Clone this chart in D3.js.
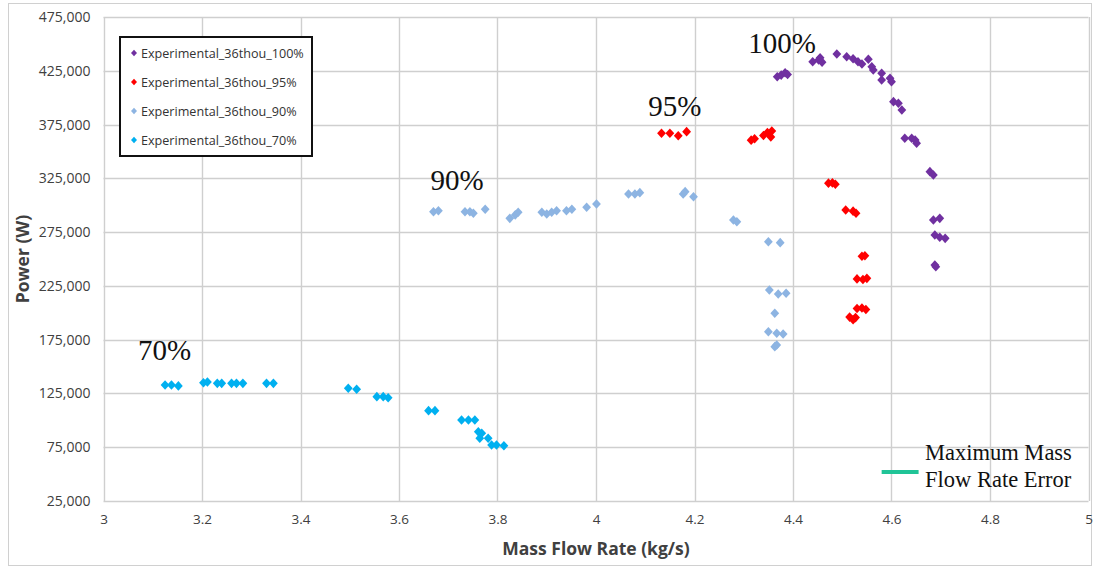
<!DOCTYPE html>
<html>
<head>
<meta charset="utf-8">
<script src="https://cdn.jsdelivr.net/npm/d3@7"></script>
<style>
  html, body { margin: 0; padding: 0; background: #fff; }
  svg { display: block; }
</style>
</head>
<body>
<svg id="chart" width="1094" height="568"></svg>
<script>
// ---- Data ----
const seriesNames = ["Experimental_36thou_100%", "Experimental_36thou_95%", "Experimental_36thou_90%", "Experimental_36thou_70%"];
const seriesColors = ["#7030a0", "#ff0000", "#8db4e2", "#00b0f0"];

const flow100 = [4.368,4.376,4.384,4.389, 4.440,4.452,4.459,4.455, 4.489,4.509,4.522,4.532,4.540,4.553,4.560,4.563,4.580,4.580,4.597,4.600,4.604,4.614,4.621,4.627,4.641,4.648,4.651,4.678,4.685,4.685,4.698,4.688,4.698,4.709,4.688,4.690];
const power100 = [419500,421000,423200,421500, 433400,435000,433000,437000, 440600,438100,436200,433400,431300,435700,428800,425700,422700,416400,418000,414900,396300,394800,388500,362200,362200,360600,357600,331200,328100,286300,287800,272300,270200,269200,244400,242800];

const flow95 = [4.133,4.150,4.167,4.184, 4.315,4.322,4.340,4.348,4.355,4.357, 4.472,4.480,4.486, 4.507,4.522,4.528, 4.540,4.546, 4.530,4.542,4.550, 4.530,4.540,4.548, 4.515,4.522,4.527];
const power95 = [366900,366900,364600,368400, 360500,361800,364800,367500,363500,369000, 320500,320800,319500, 295500,294500,292500, 252500,253000, 231500,231000,232000, 204000,204500,203000, 196000,193500,195500];

const flow90 = [3.670,3.680, 3.734,3.744,3.751,3.775, 3.825,3.836,3.842, 3.890,3.900,3.910,3.920,3.940,3.951,3.981,4.001, 4.066,4.079,4.089, 4.177,4.181,4.198, 4.279,4.286, 4.350,4.374, 4.352,4.370,4.386, 4.363, 4.350,4.367,4.380, 4.363,4.367];
const power90 = [294000,294900, 294000,294000,292500,296200, 287800,291000,293400, 293400,291800,293400,294900,294900,296200,298100,301100, 310500,310500,311700, 310500,312600,307900, 286300,284700, 266100,265200, 221200,217500,218100, 199500, 182400,181000,180300, 168500,170000];

const flow70 = [3.125,3.138,3.152, 3.203,3.211, 3.231,3.240, 3.260,3.270,3.283, 3.331,3.345, 3.497,3.514, 3.555,3.568,3.578, 3.660,3.673, 3.727,3.741,3.754, 3.761,3.764,3.768,3.781, 3.788,3.798,3.813];
const power70 = [132900,132900,132000, 135000,135600, 134400,134400, 134400,134400,134400, 134400,134400, 129800,128900, 122000,122000,121000, 109000,109000, 100300,100300,100300, 89400,83300,88000,83300, 77100,77100,76400];

const xTicks = [3, 3.2, 3.4, 3.6, 3.8, 4, 4.2, 4.4, 4.6, 4.8, 5];
const yTicks = [25000, 75000, 125000, 175000, 225000, 275000, 325000, 375000, 425000, 475000];

const annotations = [
  {text: "70%", x: 3.070, y: 156100},
  {text: "90%", x: 3.664, y: 314200},
  {text: "95%", x: 4.106, y: 383200},
  {text: "100%", x: 4.309, y: 441500}
];
const errorLabel = ["Maximum Mass", "Flow Rate Error"];

// ---- Layout ----
const svg = d3.select("#chart");
const plot = {left: 103.5, right: 1088.5, top: 17, bottom: 501};

const x = d3.scaleLinear().domain([3, 5]).range([plot.left, plot.right]);
const y = d3.scaleLinear().domain([25000, 475000]).range([plot.bottom, plot.top]);

// outer chart border
svg.append("rect").attr("x", 8.5).attr("y", 3.5).attr("width", 1083).attr("height", 562)
  .attr("fill", "none").attr("stroke", "#d0d0d0").attr("stroke-width", 1);

// gridlines
const grid = svg.append("g");
grid.selectAll("line.h").data(yTicks).enter().append("line")
  .attr("x1", plot.left).attr("x2", plot.right)
  .attr("y1", d => Math.round(y(d)) + 0.5).attr("y2", d => Math.round(y(d)) + 0.5)
  .attr("stroke", "#cfcfcf").attr("stroke-width", 1.4);
grid.selectAll("line.v").data(xTicks).enter().append("line")
  .attr("y1", plot.top).attr("y2", plot.bottom)
  .attr("x1", d => Math.round(x(d)) + 0.5).attr("x2", d => Math.round(x(d)) + 0.5)
  .attr("stroke", "#cfcfcf").attr("stroke-width", 1.4);

// axes (labels only)
const fmt = d3.format(",");
const yAxis = d3.axisLeft(y).tickValues(yTicks).tickFormat(fmt).tickSize(0).tickPadding(13);
const gy = svg.append("g").attr("transform", `translate(${plot.left},0)`).call(yAxis);
gy.select(".domain").remove();
gy.selectAll("text").attr("font-family", "'Open Sans', 'Noto Sans', sans-serif")
  .attr("font-size", 14).attr("fill", "#404040");

const xAxis = d3.axisBottom(x).tickValues(xTicks).tickFormat(d3.format("")).tickSize(0).tickPadding(13);
const gx = svg.append("g").attr("transform", `translate(0,${plot.bottom})`).call(xAxis);
gx.select(".domain").remove();
gx.selectAll("text").attr("font-family", "'Open Sans', 'Noto Sans', sans-serif")
  .attr("font-size", 13.5).attr("fill", "#404040");

// axis titles
svg.append("text").attr("x", 596).attr("y", 555).attr("text-anchor", "middle")
  .attr("font-family", "'Open Sans', 'Noto Sans', sans-serif").attr("font-size", 17.5)
  .attr("font-weight", "bold").attr("fill", "#404040").text("Mass Flow Rate (kg/s)");
svg.append("text").attr("transform", "translate(29,259) rotate(-90)").attr("text-anchor", "middle")
  .attr("font-family", "'Open Sans', 'Noto Sans', sans-serif").attr("font-size", 17.5)
  .attr("font-weight", "bold").attr("fill", "#404040").text("Power (W)");

// series
const diamond = "M0,-4.8L4.4,0L0,4.8L-4.4,0Z";
const allSeries = [
  {flow: flow100, power: power100},
  {flow: flow95, power: power95},
  {flow: flow90, power: power90},
  {flow: flow70, power: power70}
];
allSeries.forEach((s, i) => {
  const pts = s.flow.map((f, j) => [f, s.power[j]]);
  svg.append("g").selectAll("path").data(pts).enter().append("path")
    .attr("d", diamond)
    .attr("transform", d => `translate(${x(d[0])},${y(d[1])})`)
    .attr("fill", seriesColors[i]);
});

// annotations
svg.append("g").selectAll("text").data(annotations).enter().append("text")
  .attr("x", d => x(d.x)).attr("y", d => y(d.y))
  .attr("font-family", "'Liberation Serif', 'DejaVu Serif', serif").attr("font-size", 29)
  .attr("fill", "#111").text(d => d.text);

// legend
const lg = svg.append("g");
lg.append("rect").attr("x", 120).attr("y", 37).attr("width", 192).attr("height", 119)
  .attr("fill", "#fff").attr("stroke", "#111").attr("stroke-width", 2);
seriesNames.forEach((n, i) => {
  const cy = 53 + i * 29;
  lg.append("path").attr("d", "M0,-3.2L3,0L0,3.2L-3,0Z")
    .attr("transform", `translate(134,${cy})`).attr("fill", seriesColors[i]);
  lg.append("text").attr("x", 141).attr("y", cy + 4.5)
    .attr("font-family", "'Open Sans', 'Noto Sans', sans-serif").attr("font-size", 12.6)
    .attr("fill", "#333").text(n);
});

// error bar annotation
svg.append("line").attr("x1", x(4.58)).attr("x2", x(4.655))
  .attr("y1", y(52000)).attr("y2", y(52000))
  .attr("stroke", "#20c497").attr("stroke-width", 4);
const et = svg.append("g").selectAll("text").data(errorLabel).enter().append("text")
  .attr("x", 925).attr("y", (d, i) => 460 + i * 27)
  .attr("font-family", "'Liberation Serif', 'DejaVu Serif', serif").attr("font-size", 22.5)
  .attr("fill", "#111").text(d => d);
// justify the first line to the width of the second (justified text box in the reference)
const refLen = et.nodes()[1].getComputedTextLength();
const first = et.nodes()[0];
const firstLen = first.getComputedTextLength();
if (firstLen < refLen) d3.select(first).attr("word-spacing", refLen - firstLen);
</script>
</body>
</html>
